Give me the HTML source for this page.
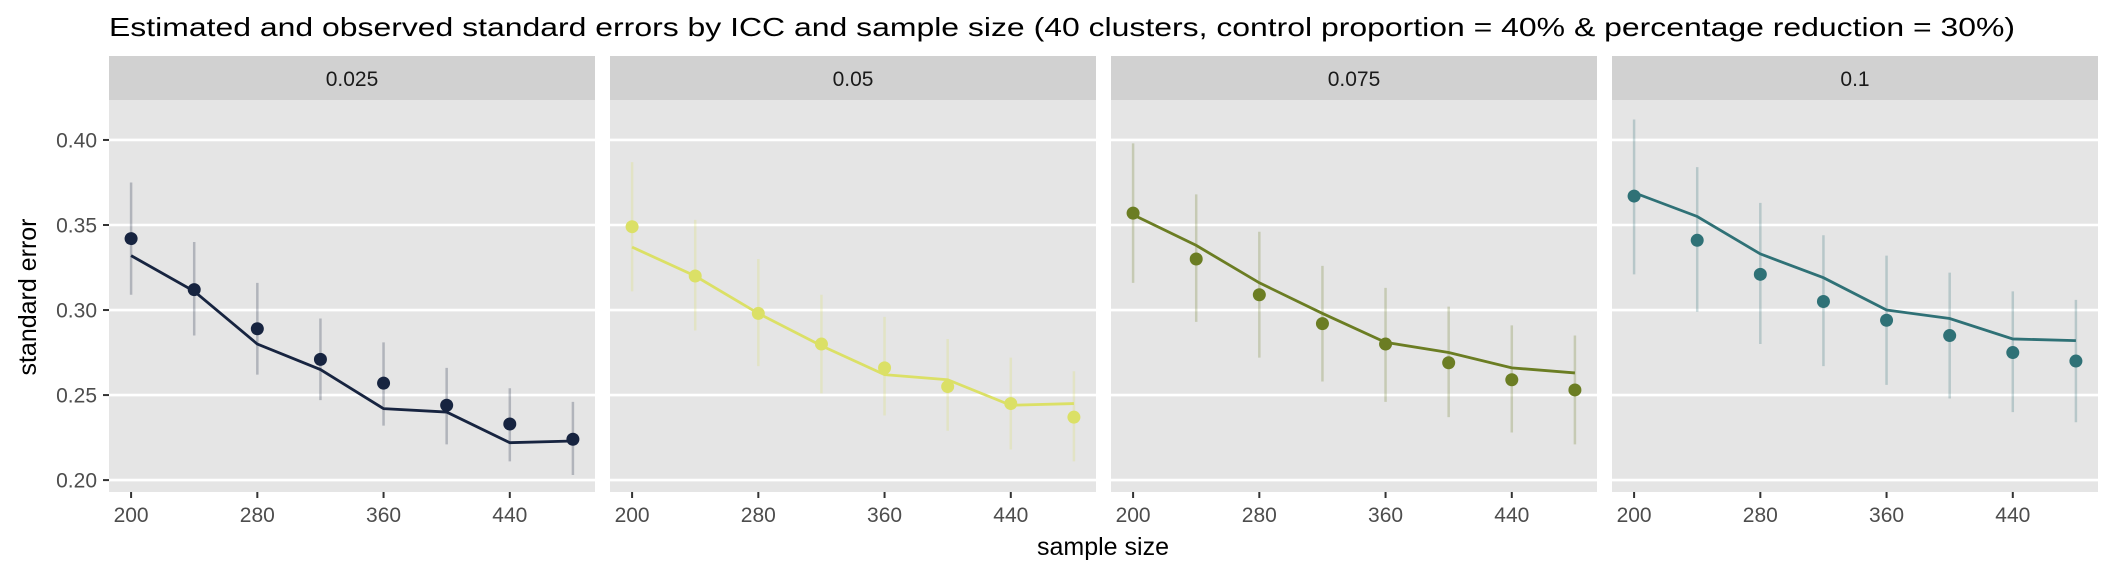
<!DOCTYPE html>
<html><head><meta charset="utf-8"><style>
body{margin:0;background:#fff}
svg{display:block;font-family:"Liberation Sans",Arial,sans-serif}
</style></head><body>
<svg id="chart" width="2112" height="576" viewBox="0 0 2112 576" xmlns="http://www.w3.org/2000/svg">
<text x="109" y="36" font-size="26" fill="#000" textLength="1906" lengthAdjust="spacingAndGlyphs">Estimated and observed standard errors by ICC and sample size (40 clusters, control proportion = 40% &amp; percentage reduction = 30%)</text>
<text transform="translate(36,297) rotate(-90)" text-anchor="middle" font-size="25" fill="#000">standard error</text>
<text x="1103" y="555" text-anchor="middle" font-size="25" fill="#000">sample size</text>
<g id="panels"></g>
</svg>
<script>
const panelLabels = ["0.025","0.05","0.075","0.1"];
const sampleSizes = [200,240,280,320,360,400,440,480];
const observed = [
 [0.342,0.312,0.289,0.271,0.257,0.244,0.233,0.224],
 [0.349,0.320,0.298,0.280,0.266,0.255,0.245,0.237],
 [0.357,0.330,0.309,0.292,0.280,0.269,0.259,0.253],
 [0.367,0.341,0.321,0.305,0.294,0.285,0.275,0.270]];
const estimated = [
 [0.332,0.311,0.280,0.265,0.242,0.240,0.222,0.223],
 [0.337,0.320,0.298,0.279,0.262,0.259,0.244,0.245],
 [0.356,0.338,0.316,0.298,0.281,0.275,0.266,0.263],
 [0.369,0.355,0.333,0.319,0.300,0.295,0.283,0.282]];
const lowerCI = [
 [0.309,0.285,0.262,0.247,0.232,0.221,0.211,0.203],
 [0.311,0.288,0.267,0.251,0.238,0.229,0.218,0.211],
 [0.316,0.293,0.272,0.258,0.246,0.237,0.228,0.221],
 [0.321,0.299,0.280,0.267,0.256,0.248,0.240,0.234]];
const upperCI = [
 [0.375,0.340,0.316,0.295,0.281,0.266,0.254,0.246],
 [0.387,0.353,0.330,0.309,0.296,0.283,0.272,0.264],
 [0.398,0.368,0.346,0.326,0.313,0.302,0.291,0.285],
 [0.412,0.384,0.363,0.344,0.332,0.322,0.311,0.306]];
const yTicks = [0.20,0.25,0.30,0.35,0.40];
const yTickLabels = ["0.20","0.25","0.30","0.35","0.40"];
const xTicks = [200,280,360,440];
const xTickLabels = ["200","280","360","440"];
const colors = ["#172440","#dbe066","#6b7d23","#2f7176"];

const NS="http://www.w3.org/2000/svg";
const root=document.getElementById('panels');
const panelW=486, panelTop=100, panelBot=492, stripTop=56, panelStep=501, panelX0=109;
const xMin=186, xMax=494, yMin=0.193, yMax=0.4235;
function yScale(v){return panelBot-(v-yMin)/(yMax-yMin)*(panelBot-panelTop);}
function mk(tag,attrs,parent){const e=document.createElementNS(NS,tag);for(const k in attrs)e.setAttribute(k,attrs[k]);parent.appendChild(e);return e;}

panelLabels.forEach((lab,p)=>{
  const x0=panelX0+p*panelStep;
  const xScale=v=>x0+(v-xMin)/(xMax-xMin)*panelW;
  const g=mk('g',{},root);
  
  
  const strip=mk('rect',{x:x0,y:stripTop,width:panelW,height:panelTop-stripTop,fill:'#d1d1d1'},g);
  
  
  const st=mk('text',{x:x0+panelW/2,y:86,'text-anchor':'middle','font-size':21,fill:'#1a1a1a'},g);
  st.textContent=lab;
  
  
  const bg=mk('rect',{x:x0,y:panelTop,width:panelW,height:panelBot-panelTop,fill:'#e5e5e5'},g);
  
  
  yTicks.forEach((t,i)=>{
    const y=yScale(t);
    const gl=mk('line',{x1:x0,x2:x0+panelW,y1:y,y2:y,stroke:'#fff','stroke-width':2.6},g);
    
    
    if(p===0){
      const tk=mk('line',{x1:103,x2:109,y1:y,y2:y,stroke:'#333','stroke-width':2},g);
      
      
      const tl=mk('text',{x:97,y:y+7.5,'text-anchor':'end','font-size':21,fill:'#4d4d4d'},g);
      tl.textContent=yTickLabels[i];
      
      
    }
  });
  xTicks.forEach((t,i)=>{
    const x=xScale(t);
    const tk=mk('line',{x1:x,x2:x,y1:panelBot,y2:panelBot+6,stroke:'#333','stroke-width':2},g);
    
    
    const tl=mk('text',{x:x,y:522,'text-anchor':'middle','font-size':21,fill:'#4d4d4d'},g);
    tl.textContent=xTickLabels[i];
    
    
  });
  sampleSizes.forEach((s,i)=>{
    const eb=mk('line',{x1:xScale(s),x2:xScale(s),y1:yScale(lowerCI[p][i]),y2:yScale(upperCI[p][i]),stroke:colors[p],'stroke-opacity':0.25,'stroke-width':2.5},g);
    
    
  });
  const pts=sampleSizes.map((s,i)=>xScale(s)+','+yScale(estimated[p][i])).join(' ');
  const ln=mk('polyline',{points:pts,fill:'none',stroke:colors[p],'stroke-width':2.8},g);
  
  
  sampleSizes.forEach((s,i)=>{
    const c=mk('circle',{cx:xScale(s),cy:yScale(observed[p][i]),r:6.5,fill:colors[p]},g);
    
    
  });
});
</script>
</body></html>
